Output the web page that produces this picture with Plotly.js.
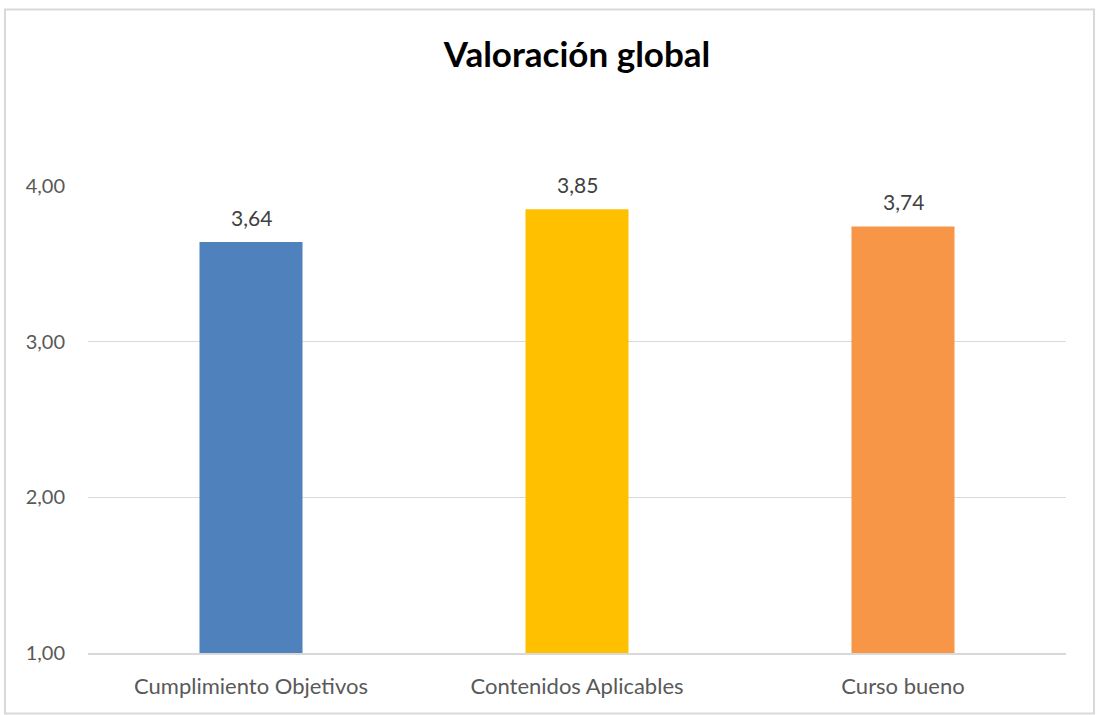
<!DOCTYPE html>
<html>
<head>
<meta charset="utf-8">
<script src="https://cdn.plot.ly/plotly-3.0.1.min.js"></script>
<style>
html,body{margin:0;padding:0;background:#fff;}
#chart{width:1097px;height:715px;}
</style>
</head>
<body>
<div id="chart"></div>
<script>
var categories = ["Cumplimiento Objetivos", "Contenidos Aplicables", "Curso bueno"];
var values = [3.64, 3.85, 3.74];
var barColors = ["#4f81bd", "#ffc000", "#f79646"];
var yTickVals = [1, 2, 3, 4];
var yTickText = ["1,00", "2,00", "3,00", "4,00"];

var FONT = "Lato, 'Open Sans', sans-serif";

var trace = {
  type: "bar",
  x: categories,
  y: values.map(function(v){ return v - 1; }),
  base: 1,
  marker: {color: barColors},
  hoverinfo: "none"
};

var annotations = categories.map(function(c, i){
  return {
    x: c, y: values[i], xref: "x", yref: "y",
    text: values[i].toFixed(2).replace(".", ","),
    showarrow: false, yanchor: "middle", yshift: 25,
    font: {family: FONT, size: 21, color: "#404040"}
  };
});

var layout = {
  width: 1097, height: 715,
  margin: {l: 88, r: 31, t: 186, b: 62},
  paper_bgcolor: "#ffffff",
  plot_bgcolor: "#ffffff",
  showlegend: false,
  bargap: 0.684,
  title: {
    text: "<b>Valoración global</b>",
    x: 0.5, xref: "paper", xanchor: "center",
    y: 1 - 55/715, yref: "container", yanchor: "middle",
    font: {family: FONT, size: 35, color: "#000000"}
  },
  xaxis: {
    type: "category",
    showgrid: false,
    showline: true, linecolor: "#d9d9d9", linewidth: 1.5,
    ticks: "", ticklabelstandoff: 13,
    tickfont: {family: FONT, size: 22, color: "#595959"},
    fixedrange: true
  },
  yaxis: {
    range: [1, 4],
    tickvals: yTickVals, ticktext: yTickText,
    showgrid: true, gridcolor: "#d9d9d9", gridwidth: 1.5,
    zeroline: false, showline: false,
    ticks: "", ticklabelstandoff: 22,
    tickfont: {family: FONT, size: 20, color: "#595959"},
    fixedrange: true
  },
  annotations: annotations,
  shapes: [{
    type: "rect", xref: "paper", yref: "paper",
    x0: (5 - 88) / 978, x1: (1094 - 88) / 978,
    y0: (653 - 713.5) / 467, y1: (653 - 9.5) / 467,
    line: {color: "#d9d9d9", width: 2},
    fillcolor: "rgba(0,0,0,0)", layer: "below"
  }]
};

Plotly.newPlot("chart", [trace], layout, {displayModeBar: false, staticPlot: true});
</script>
</body>
</html>
